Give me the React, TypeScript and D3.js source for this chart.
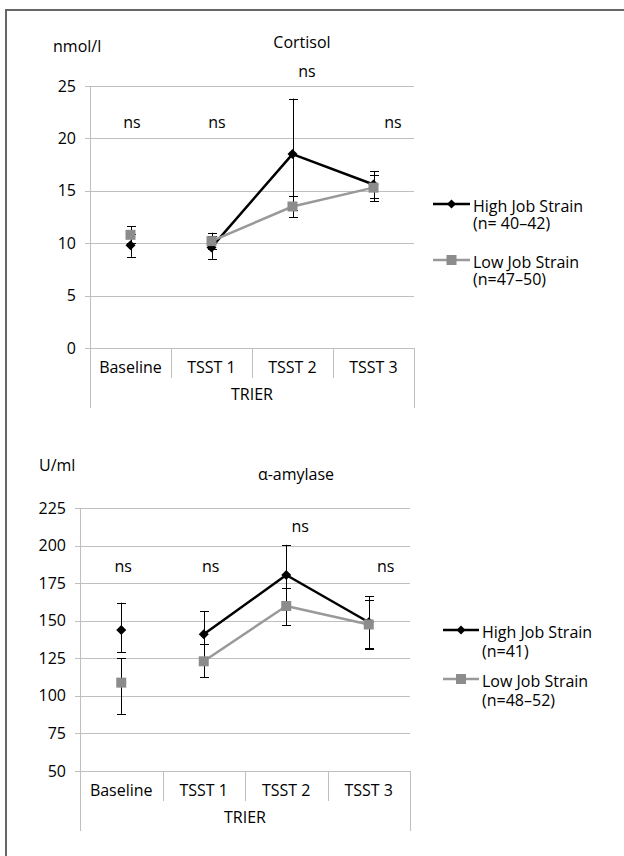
import * as d3 from 'd3';
import { useEffect, useRef } from 'react';

const categories = ['Baseline', 'TSST 1', 'TSST 2', 'TSST 3'];

// Cortisol (nmol/l)
const cortisolHigh = [9.8, 9.6, 18.5, 15.6];
const cortisolHighLow = [8.7, 8.5, 13.2, 14.35];
const cortisolHighUp = [10.9, 10.7, 23.8, 16.85];
const cortisolLow = [10.8, 10.2, 13.5, 15.3];
const cortisolLowLow = [10.0, 9.4, 12.5, 14.0];
const cortisolLowUp = [11.6, 11.0, 14.55, 16.5];
const cortisolTicks = [0, 5, 10, 15, 20, 25];

// alpha-amylase (U/ml)
const amylaseHigh = [143.8, 141, 180.4, 149];
const amylaseHighLow = [129, 125.5, 160, 132];
const amylaseHighUp = [162, 156.5, 200.5, 166.4];
const amylaseLow = [108.8, 123, 159.8, 147.5];
const amylaseLowLow = [88, 112.3, 147, 131.5];
const amylaseLowUp = [125, 134.7, 172, 163.8];
const amylaseTicks = [50, 75, 100, 125, 150, 175, 200, 225];

const nsLabels = ['ns', 'ns', 'ns', 'ns'];

const FONT = '"Open Sans", "DejaVu Sans", sans-serif';
const GRID = '#bfbfbf';
const GREY = '#999999';
const SQUARE = '#8c8c8c';

interface Panel {
  title: string;
  unit: string;
  ticks: number[];
  high: number[]; highLow: number[]; highUp: number[];
  low: number[]; lowLow: number[]; lowUp: number[];
  highLegend: string[]; lowLegend: string[];
  // layout
  left: number; right: number; top: number; bottom: number;
  unitX: number; unitY: number; titleX: number; titleY: number;
  nsY: number[]; nsDx: number[];
  legendX: number; legendHighY: number; legendLowY: number; legendLen: number; legendGap: number;
}

const panels: Panel[] = [
  {
    title: 'Cortisol', unit: 'nmol/l', ticks: cortisolTicks,
    high: cortisolHigh, highLow: cortisolHighLow, highUp: cortisolHighUp,
    low: cortisolLow, lowLow: cortisolLowLow, lowUp: cortisolLowUp,
    highLegend: ['High Job Strain', '(n= 40–42)'],
    lowLegend: ['Low Job Strain', '(n=47–50)'],
    left: 90, right: 414, top: 86, bottom: 348,
    unitX: 53, unitY: 46, titleX: 302, titleY: 42,
    nsY: [122, 122, 71, 122], nsDx: [1.5, 5.5, 14.5, 19.5],
    legendX: 433, legendHighY: 204, legendLowY: 260, legendLen: 37, legendGap: 17,
  },
  {
    title: 'α-amylase', unit: 'U/ml', ticks: amylaseTicks,
    high: amylaseHigh, highLow: amylaseHighLow, highUp: amylaseHighUp,
    low: amylaseLow, lowLow: amylaseLowLow, lowUp: amylaseLowUp,
    highLegend: ['High Job Strain', '(n=41)'],
    lowLegend: ['Low Job Strain', '(n=48–52)'],
    left: 80, right: 410, top: 508, bottom: 771,
    unitX: 39, unitY: 465, titleX: 296, titleY: 474,
    nsY: [566, 566, 526, 566], nsDx: [2, 7, 14, 17],
    legendX: 443, legendHighY: 630, legendLowY: 679, legendLen: 36, legendGap: 19,
  },
];

const diamond = (cx: number, cy: number, r: number) =>
  `M${cx},${cy - r}L${cx + r},${cy}L${cx},${cy + r}L${cx - r},${cy}Z`;

export default function App() {
  const svgRef = useRef<SVGSVGElement>(null);

  useEffect(() => {
    if (!svgRef.current) return;
    const svg = d3.select(svgRef.current);
    svg.selectAll('*').remove();

    // outer frame (runs off the right and bottom edge)
    svg.append('rect')
      .attr('x', 6).attr('y', 10).attr('width', 700).attr('height', 900)
      .attr('fill', 'none').attr('stroke', '#666').attr('stroke-width', 2);

    panels.forEach(p => {
      const g = svg.append('g').style('font-family', FONT).style('font-size', '16px');

      const x = d3.scaleBand().domain(categories).range([p.left, p.right]);
      const y = d3.scaleLinear()
        .domain([p.ticks[0], p.ticks[p.ticks.length - 1]])
        .range([p.bottom, p.top]);
      const cx = (c: string) => (x(c) ?? 0) + x.bandwidth() / 2;

      // gridlines
      g.selectAll('.grid')
        .data(p.ticks)
        .join('line')
        .attr('x1', p.left - 5).attr('x2', p.right)
        .attr('y1', d => Math.round(y(d)) + 0.5).attr('y2', d => Math.round(y(d)) + 0.5)
        .attr('stroke', GRID).attr('stroke-width', 1);

      // y axis
      g.append('line')
        .attr('x1', p.left + 0.5).attr('x2', p.left + 0.5)
        .attr('y1', p.top).attr('y2', p.bottom + 60)
        .attr('stroke', GRID);
      g.selectAll('.ytick')
        .data(p.ticks)
        .join('text')
        .attr('x', p.left - 14)
        .attr('y', d => y(d))
        .attr('dy', '0.35em')
        .attr('text-anchor', 'end')
        .attr('fill', '#000')
        .text(d => d);

      // category separators + labels
      g.selectAll('.sep')
        .data(categories.slice(1))
        .join('line')
        .attr('x1', d => Math.round(x(d) ?? 0) + 0.5).attr('x2', d => Math.round(x(d) ?? 0) + 0.5)
        .attr('y1', p.bottom).attr('y2', p.bottom + 30)
        .attr('stroke', GRID);
      g.append('line')
        .attr('x1', p.right + 0.5).attr('x2', p.right + 0.5)
        .attr('y1', p.bottom).attr('y2', p.bottom + 60)
        .attr('stroke', GRID);
      g.selectAll('.cat')
        .data(categories)
        .join('text')
        .attr('x', d => cx(d))
        .attr('y', p.bottom + 19)
        .attr('dy', '0.35em')
        .attr('text-anchor', 'middle')
        .attr('fill', '#000')
        .text(d => d);
      g.append('text')
        .attr('x', (p.left + p.right) / 2).attr('y', p.bottom + 46)
        .attr('dy', '0.35em').attr('text-anchor', 'middle').attr('fill', '#000')
        .text('TRIER');

      // unit + title
      g.append('text').attr('x', p.unitX).attr('y', p.unitY).attr('dy', '0.35em')
        .attr('fill', '#000').text(p.unit);
      g.append('text').attr('x', p.titleX).attr('y', p.titleY).attr('dy', '0.35em')
        .attr('text-anchor', 'middle').attr('fill', '#000').text(p.title);

      // ns annotations
      g.selectAll('.ns')
        .data(categories)
        .join('text')
        .attr('x', (d, i) => cx(d) + p.nsDx[i])
        .attr('y', (_, i) => p.nsY[i])
        .attr('dy', '0.35em')
        .attr('text-anchor', 'middle')
        .attr('fill', '#000')
        .text((_, i) => nsLabels[i]);

      // error bars (both series, black)
      const bars = [
        ...categories.map((c, i) => ({ c, lo: p.highLow[i], hi: p.highUp[i] })),
        ...categories.map((c, i) => ({ c, lo: p.lowLow[i], hi: p.lowUp[i] })),
      ];
      bars.forEach(b => {
        const bx = Math.round(cx(b.c)) + 0.5;
        g.append('line').attr('x1', bx).attr('x2', bx)
          .attr('y1', y(b.lo)).attr('y2', y(b.hi)).attr('stroke', '#000');
        [b.lo, b.hi].forEach(v => {
          g.append('line').attr('x1', bx - 4.5).attr('x2', bx + 4.5)
            .attr('y1', Math.round(y(v)) + 0.5).attr('y2', Math.round(y(v)) + 0.5)
            .attr('stroke', '#000');
        });
      });

      // lines are broken between Baseline and TSST 1
      const line = d3.line<[string, number]>().x(d => cx(d[0])).y(d => y(d[1]));
      const seg = (vals: number[]) =>
        categories.slice(1).map((c, i) => [c, vals[i + 1]] as [string, number]);

      g.append('path').attr('d', line(seg(p.high)) ?? '')
        .attr('fill', 'none').attr('stroke', '#000').attr('stroke-width', 2.5)
        .attr('stroke-linejoin', 'round');
      g.selectAll('.dia')
        .data(categories)
        .join('path')
        .attr('d', (c, i) => diamond(cx(c), y(p.high[i]), 5))
        .attr('fill', '#000');

      g.append('path').attr('d', line(seg(p.low)) ?? '')
        .attr('fill', 'none').attr('stroke', GREY).attr('stroke-width', 2.5)
        .attr('stroke-linejoin', 'round');
      g.selectAll('.sq')
        .data(categories)
        .join('rect')
        .attr('x', c => cx(c) - 5).attr('y', (_, i) => y(p.low[i]) - 5)
        .attr('width', 10).attr('height', 10)
        .attr('fill', SQUARE);

      // legend
      const lx = p.legendX;
      const lm = lx + p.legendLen / 2;
      g.append('line').attr('x1', lx).attr('x2', lx + p.legendLen)
        .attr('y1', p.legendHighY).attr('y2', p.legendHighY)
        .attr('stroke', '#000').attr('stroke-width', 2.5);
      g.append('path').attr('d', diamond(lm, p.legendHighY, 4.5)).attr('fill', '#000');
      g.append('line').attr('x1', lx).attr('x2', lx + p.legendLen)
        .attr('y1', p.legendLowY).attr('y2', p.legendLowY)
        .attr('stroke', GREY).attr('stroke-width', 2.5);
      g.append('rect').attr('x', lm - 5).attr('y', p.legendLowY - 5)
        .attr('width', 10).attr('height', 10).attr('fill', SQUARE);

      const legendText = (lines: string[], yy: number) => {
        lines.forEach((s, k) => {
          g.append('text').attr('x', lx + p.legendLen + 3).attr('y', yy + 2 + k * p.legendGap)
            .attr('dy', '0.35em').attr('fill', '#000').text(s);
        });
      };
      legendText(p.highLegend, p.legendHighY);
      legendText(p.lowLegend, p.legendLowY);
    });
  }, []);

  return (
    <div style={{ position: 'absolute', left: 0, top: 0, background: '#fff' }}>
      <svg ref={svgRef} width={624} height={856} />
    </div>
  );
}
